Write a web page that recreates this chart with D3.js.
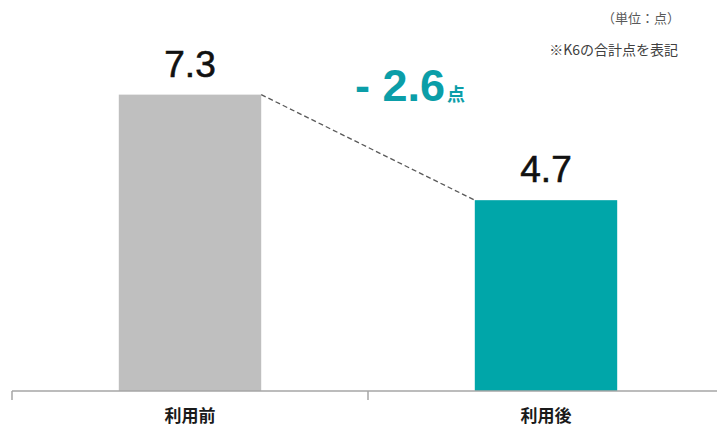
<!DOCTYPE html>
<html>
<head>
<meta charset="utf-8">
<script src="https://cdn.jsdelivr.net/npm/d3@7"></script>
<style>
  html, body { margin: 0; padding: 0; background: #fff; }
  svg { display: block; }
</style>
</head>
<body>
<svg id="chart" width="717" height="432"></svg>
<script>
// K6 total score before and after use
const categories = ["利用前", "利用後"];
const values = [7.3, 4.7];
const barColors = ["#bfbfbf", "#00a6a9"];
const changeLabel = "- 2.6";
const changeUnit = "点";
const unitNote = "（単位：点）";
const scoreNote = "※K6の合計点を表記";

const svg = d3.select("#chart");
const baseY = 391;

const x = d3.scaleBand()
  .domain(categories)
  .range([12, 724])
  .paddingInner(0.6)
  .paddingOuter(0.3);

const y = d3.scaleLinear()
  .domain([0, 8])
  .range([baseY, baseY - 8 * 40.6]);

// bars
svg.selectAll("rect.bar")
  .data(values)
  .join("rect")
  .attr("class", "bar")
  .attr("x", (d, i) => x(categories[i]))
  .attr("width", x.bandwidth())
  .attr("y", d => y(d))
  .attr("height", d => y(0) - y(d))
  .attr("fill", (d, i) => barColors[i]);

// value labels
svg.selectAll("text.val")
  .data(values)
  .join("text")
  .attr("class", "val")
  .attr("x", (d, i) => x(categories[i]) + x.bandwidth() / 2)
  .attr("y", d => y(d) - 18)
  .attr("text-anchor", "middle")
  .attr("font-family", "'Liberation Sans', Arial, sans-serif")
  .attr("font-size", 37)
  .attr("fill", "#111")
  .attr("stroke", "#111")
  .attr("stroke-width", 0.6)
  .text(d => d.toFixed(1));

// dashed connector between bar tops
svg.append("line")
  .attr("x1", x(categories[0]) + x.bandwidth())
  .attr("y1", y(values[0]))
  .attr("x2", x(categories[1]))
  .attr("y2", y(values[1]))
  .attr("stroke", "#595959")
  .attr("stroke-width", 1.3)
  .attr("stroke-dasharray", "5,3");

// axis line with category boundary ticks
const step = x.step();
const left = x.range()[0];
const axis = svg.append("g").attr("stroke", "#a6a6a6").attr("stroke-width", 1.5);
axis.append("line")
  .attr("x1", left).attr("x2", x.range()[1])
  .attr("y1", baseY).attr("y2", baseY);
axis.selectAll("line.tick")
  .data(d3.range(categories.length + 1))
  .join("line")
  .attr("class", "tick")
  .attr("x1", i => left + i * step)
  .attr("x2", i => left + i * step)
  .attr("y1", baseY)
  .attr("y2", baseY + 9);

// category labels
svg.selectAll("text.cat")
  .data(categories)
  .join("text")
  .attr("class", "cat")
  .attr("x", d => x(d) + x.bandwidth() / 2)
  .attr("y", 422)
  .attr("text-anchor", "middle")
  .attr("font-family", "'Noto Sans CJK JP', sans-serif")
  .attr("font-weight", "bold")
  .attr("font-size", 17)
  .attr("fill", "#1a1a1a")
  .text(d => d);

// change annotation
const change = svg.append("text")
  .attr("x", 355)
  .attr("y", 101)
  .attr("font-family", "'Liberation Sans', Arial, sans-serif")
  .attr("font-weight", "bold")
  .attr("fill", "#0b9ea8");
change.append("tspan").attr("font-size", 45).text(changeLabel);
change.append("tspan")
  .attr("font-family", "'Noto Sans CJK JP', sans-serif")
  .attr("font-size", 18)
  .attr("dx", 2)
  .text(changeUnit);

// notes
svg.append("text")
  .attr("x", 680).attr("y", 23)
  .attr("text-anchor", "end")
  .attr("font-family", "'Noto Sans CJK JP', sans-serif")
  .attr("font-size", 13)
  .attr("fill", "#595959")
  .text(unitNote);

svg.append("text")
  .attr("x", 678).attr("y", 55)
  .attr("text-anchor", "end")
  .attr("font-family", "'Noto Sans CJK JP', sans-serif")
  .attr("font-size", 14)
  .attr("fill", "#404040")
  .text(scoreNote);
</script>
</body>
</html>
